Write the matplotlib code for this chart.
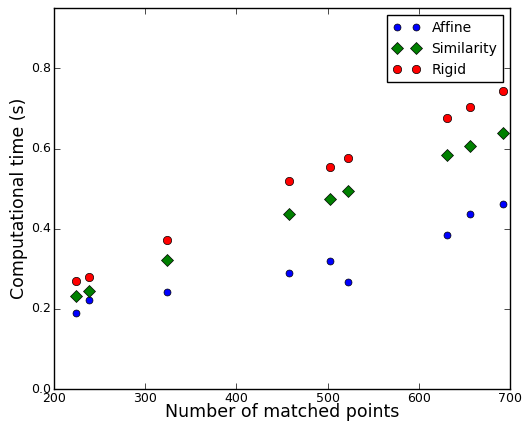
import matplotlib
matplotlib.use("Agg")
import matplotlib.pyplot as plt

plt.style.use("classic")

# Number of matched points per test case
n_points = [224, 238, 324, 458, 503, 523, 631, 656, 692]

# Computational time (s) for each transformation model
t_affine = [0.191, 0.222, 0.243, 0.290, 0.320, 0.268, 0.385, 0.437, 0.462]
t_similarity = [0.233, 0.245, 0.322, 0.437, 0.474, 0.493, 0.584, 0.606, 0.638]
t_rigid = [0.270, 0.280, 0.372, 0.518, 0.553, 0.577, 0.677, 0.703, 0.744]

fig = plt.figure(figsize=(5.23, 4.29), dpi=100, facecolor="white")
ax = fig.add_axes([0.103, 0.093, 0.872, 0.888])

ax.plot(n_points, t_affine, "bo", markersize=5, label="Affine")
ax.plot(n_points, t_similarity, "gD", markersize=6, label="Similarity")
ax.plot(n_points, t_rigid, "ro", markersize=6, label="Rigid")

ax.set_xlim(200, 700)
ax.set_ylim(0.0, 0.95)
ax.set_xticks([200, 300, 400, 500, 600, 700])
ax.set_yticks([0.0, 0.2, 0.4, 0.6, 0.8])
ax.tick_params(labelsize=9, pad=2)

ax.set_xlabel("Number of matched points", fontsize=12.5, labelpad=-1)
ax.set_ylabel("Computational time (s)", fontsize=12.5, labelpad=2)

ax.legend(loc="upper right", numpoints=2, fontsize=10)

fig.savefig("out.png", dpi=100, facecolor="white")
